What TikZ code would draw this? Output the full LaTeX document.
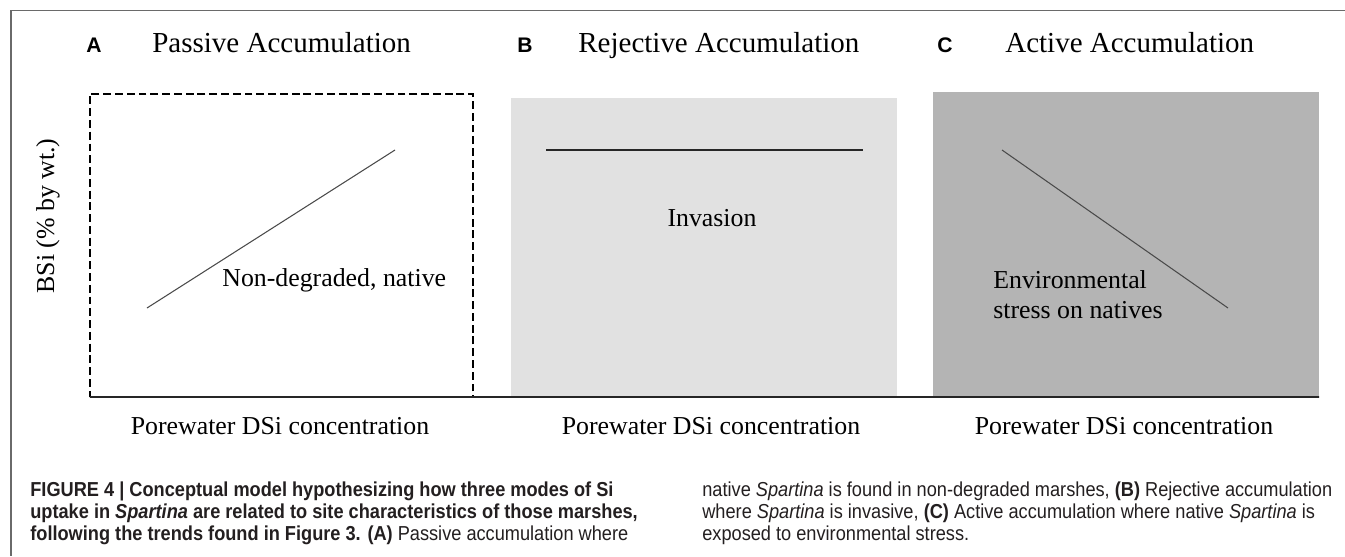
\documentclass[tikz,border=0pt]{standalone}
\usepackage{fontspec}
\setmainfont{Liberation Serif}
\newfontfamily\capfont[FakeStretch=0.9]{Liberation Sans}
\newfontfamily\letfont{Liberation Sans}
\usetikzlibrary{positioning}
\definecolor{cgrisclaro}{HTML}{E1E1E1}
\definecolor{cgrisosc}{HTML}{B4B4B4}
\definecolor{cmarco}{HTML}{6A6A6A}
\definecolor{crecta}{HTML}{4A4A4A}
\definecolor{ctexto}{HTML}{231F20}
\tikzset{
  panel/.style={rectangle, inner sep=0pt, outer sep=0pt},
  titulo/.style={font=\fontsize{16.5}{19}\selectfont, anchor=base west, inner sep=0pt},
  letra/.style={font=\letfont\bfseries\fontsize{12}{14}\selectfont, anchor=base west, inner sep=0pt},
  etq/.style={font=\fontsize{14.7}{17}\selectfont, inner sep=0pt},
  leyenda/.style={font=\capfont\fontsize{11.5}{12.5}\selectfont, text=ctexto, align=left,
    anchor=base west, inner sep=0pt},
  recta/.style={draw=crecta, line width=0.6pt},
  eje/.style={draw=black!85, line width=1pt},
  marco/.style={draw=cmarco, line width=0.6pt},
}

\begin{document}
\begin{tikzpicture}[x=0.2mm, y=-0.2mm]
  \useasboundingbox[fill=white] (0,0) rectangle (1345,556);
  \draw[marco] (1345,10.5) -- (11,10.5) -- (11,556);

  \node[panel, draw=black, line width=1.1pt, dash pattern=on 4.5pt off 2.2pt,
    minimum width=7.66cm, minimum height=6.06cm] (pa) at (281.5,245.5) {};
  \node[panel, fill=cgrisclaro, minimum width=7.72cm, minimum height=5.98cm] (pb) at (704,247.5) {};
  \node[panel, fill=cgrisosc, minimum width=7.72cm, minimum height=6.1cm] (pc) at (1126,244.5) {};
  \draw[eje] (pa.south west) -- (pc.south east);

  \node[letra] (la) at (86,52) {A};
  \node[titulo] (ta) at (152,52) {Passive Accumulation};
  \node[letra] (lb) at (517,52) {B};
  \node[titulo] (tb) at (578,52) {Rejective Accumulation};
  \node[letra] (lc) at (937,52) {C};
  \node[titulo] (tc) at (1005,52) {Active Accumulation};

  \node[etq, rotate=90] (ey) at (48,216) {BSi (\% by wt.)};
  \node[etq, anchor=base] (xa) at (280,434) {Porewater DSi concentration};
  \node[etq, anchor=base] (xb) at (711,434) {Porewater DSi concentration};
  \node[etq, anchor=base] (xc) at (1124,434) {Porewater DSi concentration};

  \coordinate (a1) at (147,308);
  \coordinate (a2) at (395,150);
  \coordinate (b1) at (546,150);
  \coordinate (b2) at (863,150);
  \coordinate (c1) at (1002,150);
  \coordinate (c2) at (1228,308);
  \draw[recta] (a1) -- (a2);
  \draw[recta, draw=black!85, line width=0.9pt] (b1) -- (b2);
  \draw[recta] (c1) -- (c2);

  \node[etq, anchor=base west] (na) at (222,286) {Non-degraded, native};
  \node[etq, anchor=base] (nb) at (712,226) {Invasion};
  \node[etq, anchor=base west, align=left] (nc) at (993,318) {Environmental\\stress on natives};

  \node[leyenda] (cap1) at (30,540)
    {\textbf{FIGURE 4 | Conceptual model hypothesizing how three modes of Si}\\
     \textbf{uptake in \textit{Spartina} are related to site characteristics of those marshes,}\\
     \textbf{following the trends found in Figure 3. (A)} Passive accumulation where};
  \node[leyenda] (cap2) at (702,540)
    {native \textit{Spartina} is found in non-degraded marshes, \textbf{(B)} Rejective accumulation\\
     where \textit{Spartina} is invasive, \textbf{(C)} Active accumulation where native \textit{Spartina} is\\
     exposed to environmental stress.};
\end{tikzpicture}
\end{document}
